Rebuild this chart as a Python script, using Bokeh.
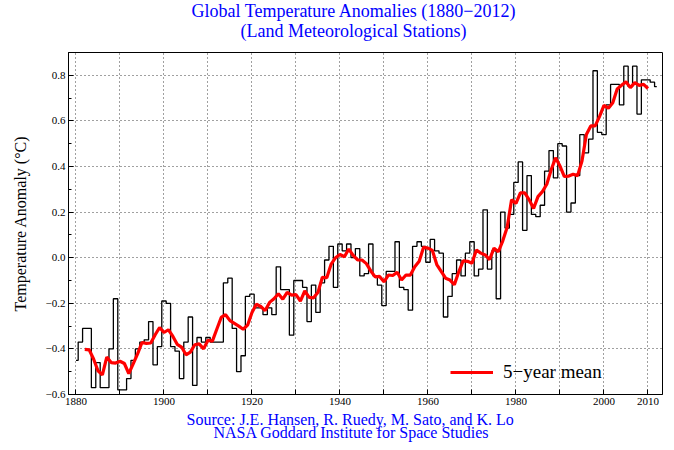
from bokeh.plotting import figure
from bokeh.models import (ColumnDataSource, FixedTicker, Range1d, Title,
                          Legend, LegendItem, CustomJSTickFormatter)
from bokeh.embed import file_html
from bokeh.resources import INLINE

# ---------------- data ----------------
years = list(range(1880, 2013))
anomaly = [
    -0.45, -0.37, -0.31, -0.31, -0.57, -0.46, -0.57, -0.57, -0.40, -0.18,
    -0.58, -0.58, -0.53, -0.45, -0.40, -0.37, -0.36, -0.28, -0.47, -0.39,
    -0.19, -0.20, -0.39, -0.41, -0.53, -0.37, -0.26, -0.56, -0.35, -0.37,
    -0.35, -0.37, -0.37, -0.37, -0.11, -0.09, -0.31, -0.50, -0.43, -0.17,
    -0.16, -0.22, -0.22, -0.25, -0.22, -0.25, -0.04, -0.14, -0.14, -0.34,
    -0.10, -0.10, -0.13, -0.28, -0.12, -0.24, -0.11, -0.01, 0.05, -0.13,
    0.06, 0.03, 0.06, 0.00, 0.04, -0.08, -0.07, 0.06, -0.08, -0.12,
    -0.21, -0.06, -0.06, 0.07, -0.13, -0.14, -0.23, 0.05, 0.07, 0.05,
    -0.02, 0.08, 0.03, 0.02, -0.26, -0.17, -0.07, -0.01, -0.08, 0.02,
    0.07, -0.08, -0.05, 0.21, -0.05, 0.03, -0.18, 0.20, 0.13, 0.19,
    0.33, 0.42, 0.12, 0.36, 0.19, 0.18, 0.23, 0.38, 0.47, 0.35,
    0.50, 0.49, 0.20, 0.24, 0.36, 0.54, 0.46, 0.52, 0.82, 0.55,
    0.54, 0.67, 0.76, 0.76, 0.67, 0.84, 0.75, 0.84, 0.63, 0.78,
    0.78, 0.77, 0.75,
]

mean_years = list(range(1882, 2011))
mean_vals = [
    -0.402, -0.404, -0.444, -0.496, -0.514, -0.436, -0.460, -0.462, -0.454, -0.464,
    -0.508, -0.466, -0.422, -0.372, -0.376, -0.374, -0.338, -0.306, -0.328, -0.316,
    -0.344, -0.380, -0.392, -0.426, -0.414, -0.382, -0.378, -0.400, -0.362, -0.366,
    -0.314, -0.262, -0.250, -0.276, -0.288, -0.300, -0.314, -0.296, -0.240, -0.204,
    -0.214, -0.232, -0.196, -0.180, -0.158, -0.182, -0.152, -0.164, -0.162, -0.190,
    -0.146, -0.174, -0.176, -0.152, -0.086, -0.088, -0.028, 0.000, 0.014, 0.004,
    0.038, 0.010, -0.010, -0.010, -0.026, -0.058, -0.084, -0.082, -0.106, -0.076,
    -0.078, -0.064, -0.098, -0.076, -0.076, -0.040, -0.016, 0.046, 0.042, 0.032,
    -0.030, -0.060, -0.090, -0.098, -0.118, -0.062, -0.014, -0.016, -0.024, 0.034,
    0.020, 0.012, -0.008, 0.042, 0.026, 0.074, 0.134, 0.254, 0.238, 0.284,
    0.284, 0.254, 0.216, 0.268, 0.290, 0.322, 0.386, 0.438, 0.402, 0.356,
    0.358, 0.366, 0.360, 0.424, 0.540, 0.578, 0.578, 0.620, 0.668, 0.656,
    0.680, 0.740, 0.756, 0.772, 0.746, 0.768, 0.756, 0.760, 0.742,
]

x_ticks = [1880, 1890, 1900, 1910, 1920, 1930, 1940, 1950, 1960, 1970, 1980, 1990, 2000, 2010]
x_tick_labels = {1880: "1880", 1890: "", 1900: "1900", 1910: "", 1920: "1920", 1930: "",
                 1940: "1940", 1950: "", 1960: "1960", 1970: "", 1980: "1980", 1990: "",
                 2000: "2000", 2010: "2010"}
y_ticks = [-0.6, -0.4, -0.2, 0.0, 0.2, 0.4, 0.6, 0.8]
y_minor_ticks = [-0.5, -0.3, -0.1, 0.1, 0.3, 0.5, 0.7, 0.9]

title_lines = ["Global Temperature Anomalies (1880\u22122012)", "(Land Meteorological Stations)"]
source_lines = ["Source: J.E. Hansen, R. Ruedy, M. Sato, and K. Lo",
                "NASA Goddard Institute for Space Studies"]
y_label = "Temperature Anomaly (\u00b0C)"
legend_label = "5\u2212year mean"

FONT = "Liberation Serif"
BLUE = "#0000ff"

# ---------------- figure ----------------
p = figure(width=666, height=442, output_backend="svg", toolbar_location=None,
           x_range=Range1d(1878.3, 2013.3), y_range=Range1d(-0.6, 0.9),
           min_border_left=68, min_border_right=4, min_border_top=52, min_border_bottom=48)
p.background_fill_color = "white"
p.border_fill_color = "white"
p.outline_line_color = "black"
p.outline_line_width = 1

y_fmt = CustomJSTickFormatter(code="return (tick < -1e-9 ? '\\u2212' : '') + Math.abs(tick).toFixed(1);")

xa = p.xaxis[0]
xa.ticker = FixedTicker(ticks=x_ticks, minor_ticks=[])
xa.major_label_overrides = x_tick_labels
ya = p.yaxis[0]
ya.ticker = FixedTicker(ticks=y_ticks, minor_ticks=y_minor_ticks)
ya.formatter = y_fmt
ya.axis_label = y_label

for ax in (xa, ya):
    ax.major_tick_in = 5
    ax.major_tick_out = 0
    ax.minor_tick_in = 3
    ax.minor_tick_out = 0
    ax.axis_line_color = "black"
    ax.major_tick_line_color = "black"
    ax.minor_tick_line_color = "black"
    ax.major_label_text_font = FONT
    ax.major_label_text_font_size = "11px"
    ax.major_label_text_color = "black"
    ax.major_label_standoff = 3
    ax.axis_label_text_font = FONT
    ax.axis_label_text_font_style = "normal"
    ax.axis_label_text_font_size = "16px"
    ax.axis_label_text_color = "black"
ya.axis_label_standoff = 14
xa.major_label_standoff = 3

for g in (p.xgrid[0], p.ygrid[0]):
    g.grid_line_color = "black"
    g.grid_line_dash = "1 3"
    g.grid_line_alpha = 0.75
    g.grid_line_width = 1

# ---------------- glyphs ----------------
src = ColumnDataSource(data=dict(year=years, anom=anomaly))
p.step(x="year", y="anom", source=src, mode="center", line_color="black", line_width=1.3)

msrc = ColumnDataSource(data=dict(year=mean_years, val=mean_vals))
r_mean = p.line(x="year", y="val", source=msrc, line_color="#ff0000", line_width=3.2)

legend = Legend(items=[LegendItem(label=legend_label, renderers=[r_mean])],
                location=(382, 11), border_line_color=None, background_fill_alpha=0,
                glyph_width=43, glyph_height=16, label_standoff=10, padding=0, margin=0,
                label_text_font=FONT, label_text_font_size="19px", label_text_color="black")
p.add_layout(legend)

# ---------------- texts (titles above, source below) ----------------
def make_title(text, size, offset, standoff, valign):
    return Title(text=text, align="left", offset=offset, standoff=standoff,
                 vertical_align=valign, text_color=BLUE, text_font=FONT,
                 text_font_size=size, text_font_style="normal")

# above: the first added sits closest to the frame
p.add_layout(make_title(title_lines[1], "18px", 172, 21, "middle"), "above")
p.add_layout(make_title(title_lines[0], "18px", 123, -23, "bottom"), "above")
# below: after the x axis
p.add_layout(make_title(source_lines[0], "16px", 118, 7, "top"), "below")
p.add_layout(make_title(source_lines[1], "16px", 145, -19, "top"), "below")

open("out.html", "w").write(file_html(p, INLINE))
